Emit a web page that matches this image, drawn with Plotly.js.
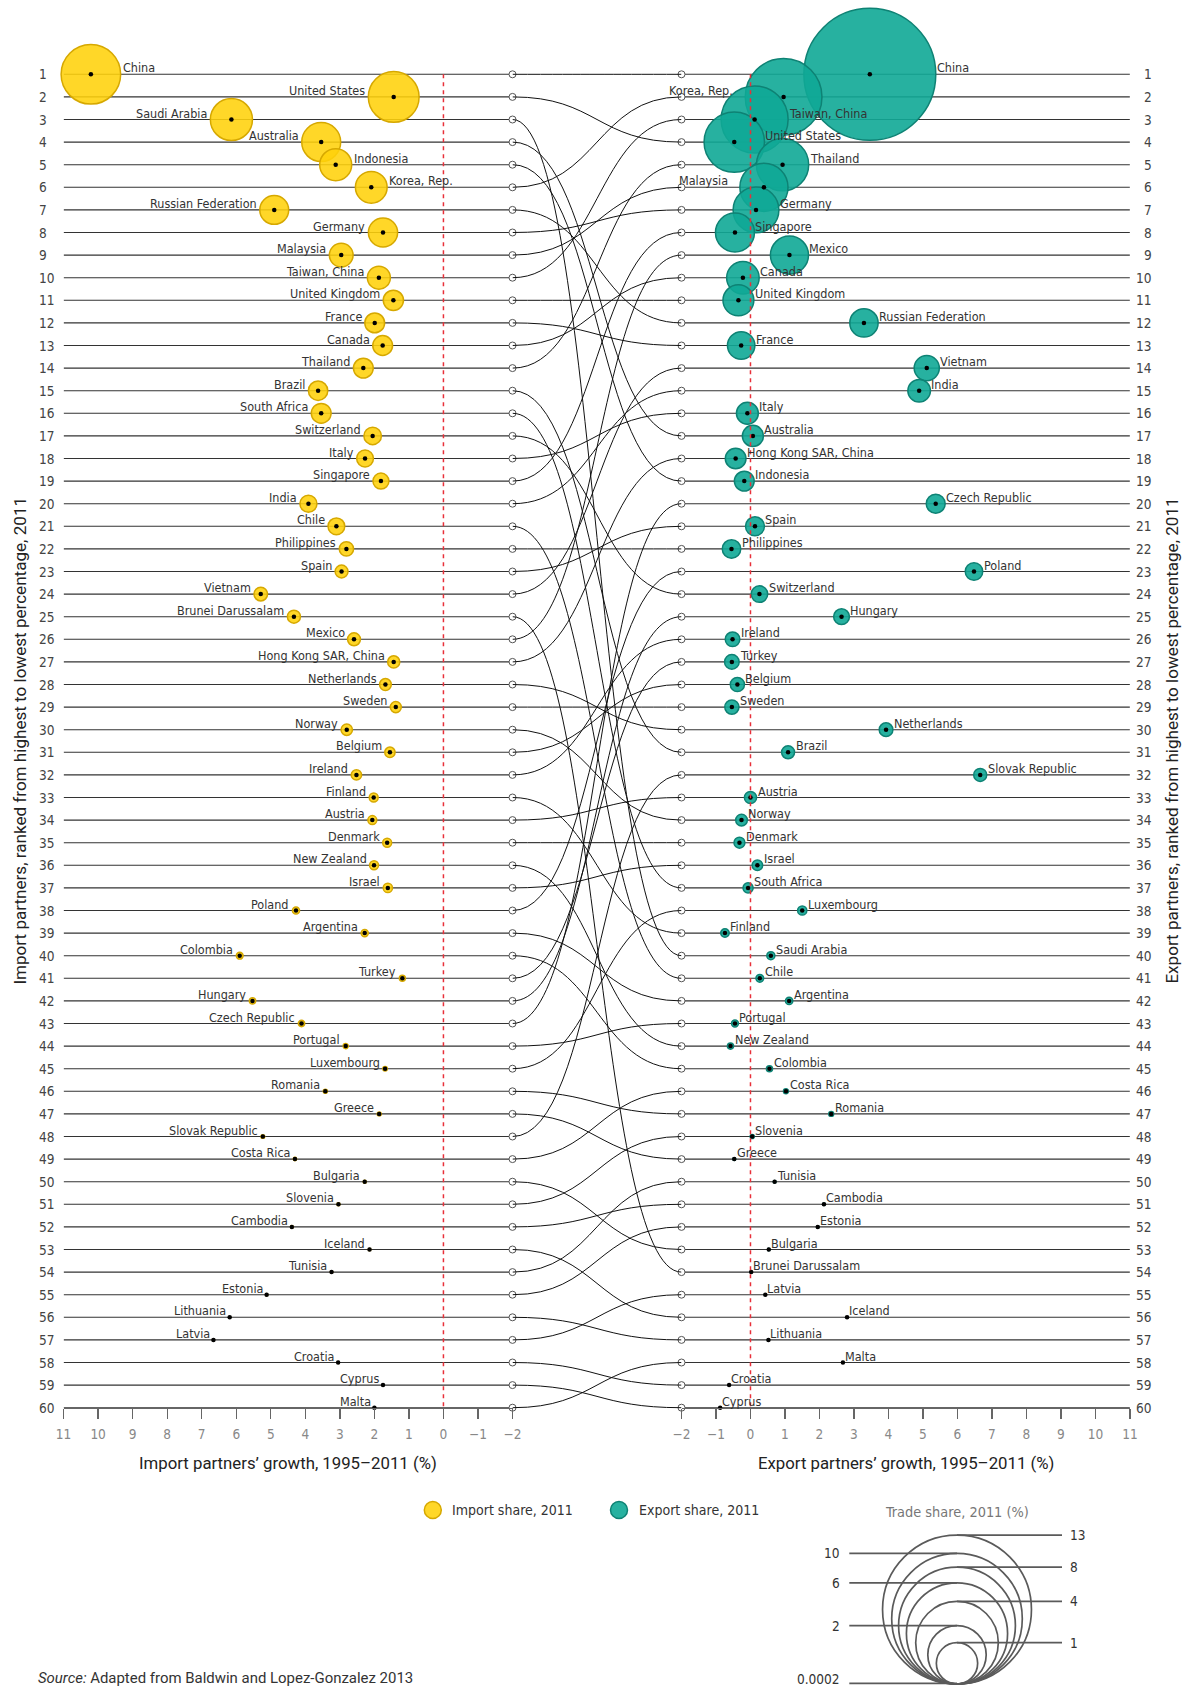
<!DOCTYPE html>
<html><head><meta charset="utf-8">
<script src="https://cdn.plot.ly/plotly-3.0.1.min.js"></script>
<style>html,body{margin:0;padding:0;background:#fff}#chart{width:1195px;height:1690px}</style>
</head><body><div id="chart"></div>
<script>
// ---------------- DATA ----------------
const importCountries = ["China","United States","Saudi Arabia","Australia","Indonesia","Korea, Rep.","Russian Federation","Germany","Malaysia","Taiwan, China","United Kingdom","France","Canada","Thailand","Brazil","South Africa","Switzerland","Italy","Singapore","India","Chile","Philippines","Spain","Vietnam","Brunei Darussalam","Mexico","Hong Kong SAR, China","Netherlands","Sweden","Norway","Belgium","Ireland","Finland","Austria","Denmark","New Zealand","Israel","Poland","Argentina","Colombia","Turkey","Hungary","Czech Republic","Portugal","Luxembourg","Romania","Greece","Slovak Republic","Costa Rica","Bulgaria","Slovenia","Cambodia","Iceland","Tunisia","Estonia","Lithuania","Latvia","Croatia","Cyprus","Malta"];
const importGrowth = [10.21,1.44,6.14,3.54,3.12,2.09,4.90,1.75,2.96,1.87,1.45,1.99,1.76,2.32,3.63,3.54,2.05,2.27,1.81,3.91,3.10,2.81,2.95,5.29,4.33,2.59,1.44,1.68,1.38,2.80,1.55,2.52,2.02,2.06,1.63,2.01,1.61,4.27,2.28,5.90,1.19,5.53,4.11,2.83,1.69,3.42,1.86,5.23,4.30,2.28,3.04,4.39,2.14,3.24,5.12,6.19,6.66,3.05,1.75,2.00];
const importShare = [2.08,1.51,1.04,0.89,0.60,0.59,0.49,0.50,0.33,0.31,0.24,0.23,0.23,0.23,0.22,0.23,0.18,0.165,0.15,0.17,0.165,0.12,0.097,0.108,0.10,0.097,0.086,0.081,0.072,0.076,0.063,0.063,0.047,0.047,0.047,0.047,0.05,0.03,0.03,0.027,0.021,0.024,0.024,0.015,0.012,0.01,0.009,0.008,0.007,0.005,0.005,0.004,0.004,0.003,0.003,0.002,0.002,0.002,0.001,0.001];

const exportCountries = ["China","Korea, Rep.","Taiwan, China","United States","Thailand","Malaysia","Germany","Singapore","Mexico","Canada","United Kingdom","Russian Federation","France","Vietnam","India","Italy","Australia","Hong Kong SAR, China","Indonesia","Czech Republic","Spain","Philippines","Poland","Switzerland","Hungary","Ireland","Turkey","Belgium","Sweden","Netherlands","Brazil","Slovak Republic","Austria","Norway","Denmark","Israel","South Africa","Luxembourg","Finland","Saudi Arabia","Chile","Argentina","Portugal","New Zealand","Colombia","Costa Rica","Romania","Slovenia","Greece","Tunisia","Cambodia","Estonia","Bulgaria","Brunei Darussalam","Latvia","Iceland","Lithuania","Malta","Croatia","Cyprus"];
const exportGrowth = [3.46,0.96,0.12,-0.47,0.93,0.39,0.16,-0.45,1.13,-0.22,-0.35,3.29,-0.27,5.11,4.89,-0.09,0.07,-0.43,-0.18,5.37,0.13,-0.55,6.48,0.26,2.64,-0.52,-0.54,-0.38,-0.54,3.93,1.09,6.66,0.0,-0.26,-0.32,0.20,-0.07,1.50,-0.74,0.59,0.27,1.12,-0.45,-0.58,0.55,1.03,2.34,0.05,-0.47,0.70,2.13,1.95,0.53,0.02,0.43,2.80,0.52,2.68,-0.62,-0.88];
const exportShare = [10.2,3.45,2.63,2.14,1.60,1.36,1.23,0.89,0.85,0.62,0.56,0.47,0.44,0.37,0.30,0.28,0.26,0.25,0.23,0.21,0.21,0.20,0.18,0.16,0.146,0.125,0.125,0.118,0.118,0.11,0.099,0.099,0.087,0.08,0.07,0.065,0.06,0.05,0.042,0.038,0.035,0.031,0.028,0.022,0.022,0.015,0.014,0.01,0.005,0.004,0.004,0.003,0.003,0.002,0.002,0.002,0.002,0.001,0.001,0.001];

const growthTicks = [11,10,9,8,7,6,5,4,3,2,1,0,-1,-2];
const legendShares = [13,10,8,6,4,2,1,0.0002];
const legendLabels = ["13","10","8","6","4","2","1","0.0002"];

// ---------------- FONTS (pick an installed narrow face, fit sizes to the reference widths) ----------------
const ctx = document.createElement('canvas').getContext('2d');
function hasFont(name) {
  const s = 'Russian Federation 0123456789 Wmil';
  for (const base of ['monospace', 'serif']) {
    ctx.font = '40px ' + base; const a = ctx.measureText(s).width;
    ctx.font = '40px "' + name + '", ' + base; const b = ctx.measureText(s).width;
    if (Math.abs(a - b) > 0.5) return true;
  }
  return false;
}
const narrowName = ['Liberation Sans Narrow', 'Arial Narrow', 'DejaVu Sans Condensed', 'Roboto'].find(hasFont) || 'Roboto';
const NARROW = '"' + narrowName + '", Roboto, sans-serif';
const REG = 'Roboto, "Liberation Sans", sans-serif';
function fit(text, family, target, lo, hi) {
  ctx.font = '100px ' + family;
  const w = ctx.measureText(text).width;
  return Math.max(lo, Math.min(hi, 100 * target / w));
}
const LAB_SIZE = fit('Russian Federation', NARROW, 102, 12.5, 15.5);
const NUM_SIZE = fit('10', NARROW, 15.5, 13.5, 16.5);
const LEG_SIZE = fit('Import share, 2011', NARROW, 121, 13, 16.5);
const TS_SIZE = fit('Trade share, 2011 (%)', NARROW, 143, 13, 16.5);
const XT_SIZE = fit('Import partners\u2019 growth, 1995\u20132011 (%)', REG, 298, 14, 18);
const YT_SIZE = fit('Import partners, ranked from highest to lowest percentage, 2011', REG, 488, 14, 18);
const SRC_SIZE = fit('Source: Adapted from Baldwin and Lopez-Gonzalez 2013', REG, 377, 13, 16.5);

// ---------------- GEOMETRY / STYLE ----------------
const W = 1195, H = 1690;
const fx = p => p / W, fy = p => 1 - p / H;
const L0 = 63.6, L1 = 512.5, R0 = 681.5, R1 = 1129.9;
const YT = 74.3, YB = 1407.7, ROWH = (YB - YT) / 59;
const SIZE_K = 41.3;
const dia = s => SIZE_K * Math.sqrt(s);
const YEL = 'rgba(255,209,10,0.88)', YEL_L = 'rgba(214,168,0,1)';
const TEAL = 'rgba(16,168,150,0.9)', TEAL_L = 'rgba(14,130,116,1)';

const nRows = importCountries.length;
const ranks = importCountries.map((_, i) => i + 1);
const xMax = growthTicks[0], xMin = growthTicks[growthTicks.length - 1];

// ---------------- TRACES ----------------
const traces = [
  {type:'scatter', mode:'markers', x: importGrowth, y: ranks, xaxis:'x', yaxis:'y', cliponaxis:false,
   text: importCountries, hoverinfo:'text',
   marker:{size: importShare.map(dia), sizemode:'diameter', opacity:1, color: YEL, line:{color: YEL_L, width:1.5}}},
  {type:'scatter', mode:'markers', x: exportGrowth, y: ranks, xaxis:'x2', yaxis:'y', cliponaxis:false,
   text: exportCountries, hoverinfo:'text',
   marker:{size: exportShare.map(dia), sizemode:'diameter', opacity:1, color: TEAL, line:{color: TEAL_L, width:1.5}}},
  {type:'scatter', mode:'markers', x: importGrowth, y: ranks, xaxis:'x', yaxis:'y', cliponaxis:false, hoverinfo:'skip',
   marker:{size:4.5, color:'#000', opacity:1}},
  {type:'scatter', mode:'markers', x: exportGrowth, y: ranks, xaxis:'x2', yaxis:'y', cliponaxis:false, hoverinfo:'skip',
   marker:{size:4.5, color:'#000', opacity:1}},
  {type:'scatter', mode:'markers', x: ranks.map(() => xMin), y: ranks, xaxis:'x', yaxis:'y', cliponaxis:false, hoverinfo:'skip',
   marker:{size:7, color:'#fff', opacity:1, line:{color:'#555', width:1}}},
  {type:'scatter', mode:'markers', x: ranks.map(() => xMin), y: ranks, xaxis:'x2', yaxis:'y', cliponaxis:false, hoverinfo:'skip',
   marker:{size:7, color:'#fff', opacity:1, line:{color:'#555', width:1}}}
];

// ---------------- SHAPES ----------------
const shapes = [];
ranks.forEach(r => {
  shapes.push({type:'line', xref:'x', yref:'y', x0:xMax, x1:xMin, y0:r, y1:r, layer:'below', line:{color:'#333', width:1.1}});
  shapes.push({type:'line', xref:'x2', yref:'y', x0:xMin, x1:xMax, y0:r, y1:r, layer:'below', line:{color:'#333', width:1.1}});
});
importCountries.forEach((c, i) => {
  const r1 = i + 1, r2 = exportCountries.indexOf(c) + 1;
  shapes.push({type:'path', xref:'x3', yref:'y', layer:'below',
    path:`M 0,${r1} C 0.5,${r1} 0.5,${r2} 1,${r2}`, line:{color:'#111', width:1}});
});
['x','x2'].forEach(ax => shapes.push({type:'line', xref:ax, yref:'y', x0:0, x1:0, y0:1, y1:nRows,
  layer:'above', line:{color:'#e8303a', width:1.5, dash:'4px,4px'}}));

// legend: colour keys
const LEG_Y = 1510;
shapes.push({type:'circle', xref:'paper', yref:'paper', x0:fx(424.3), x1:fx(441.3), y0:fy(LEG_Y+8.5), y1:fy(LEG_Y-8.5), fillcolor:YEL, line:{color:YEL_L, width:1.5}});
shapes.push({type:'circle', xref:'paper', yref:'paper', x0:fx(610.5), x1:fx(627.5), y0:fy(LEG_Y+8.5), y1:fy(LEG_Y-8.5), fillcolor:TEAL, line:{color:TEAL_L, width:1.5}});

// legend: nested size circles
const LC_X = 957, LC_B = 1684;
const annotations = [];
legendShares.forEach((v, k) => {
  const d = dia(v), top = LC_B - d;
  if (d > 1) shapes.push({type:'circle', xref:'paper', yref:'paper', x0:fx(LC_X - d/2), x1:fx(LC_X + d/2), y0:fy(LC_B), y1:fy(top),
    line:{color:'#5a5a5a', width:1.7}});
  const right = (k % 2 === 0);
  shapes.push({type:'line', xref:'paper', yref:'paper', x0:fx(LC_X), x1:fx(right ? 1062 : 849.3), y0:fy(top), y1:fy(top),
    line:{color:'#5a5a5a', width:1.8}});
  const last = (k === legendShares.length - 1);
  annotations.push({xref:'paper', yref:'paper', x:fx(right ? 1068 : 842), y: last ? fy(1689) : fy(top), text:legendLabels[k], showarrow:false,
    xanchor: right ? 'left' : 'right', yanchor: last ? 'bottom' : 'middle', font:{family:NARROW, size:NUM_SIZE, color:'#333'}});
});

// ---------------- ANNOTATIONS ----------------
const flipL = ["China","Korea, Rep.","Indonesia"];
const flipR = ["Korea, Rep.","Malaysia"];
const labFont = {family:NARROW, size:LAB_SIZE, color:'#333'};
importCountries.forEach((c, i) => {
  const r = dia(importShare[i]) / 2, flip = flipL.includes(c);
  annotations.push({xref:'x', yref:'y', x:importGrowth[i], y:i+1, text:c, showarrow:false,
    xanchor: flip ? 'left' : 'right', yanchor:'bottom', xshift: flip ? r : -(r + 1), yshift:-3, font:labFont});
});
exportCountries.forEach((c, i) => {
  const r = dia(exportShare[i]) / 2, flip = flipR.includes(c);
  annotations.push({xref:'x2', yref:'y', x:exportGrowth[i], y:i+1, text:c, showarrow:false,
    xanchor: flip ? 'right' : 'left', yanchor:'bottom', xshift: flip ? -(r + 10) : r - 1, yshift:-3, font:labFont});
});
ranks.forEach(r => {
  annotations.push({xref:'paper', yref:'y', x:fx(36.5), y:r, text:String(r), showarrow:false, xanchor:'left', yanchor:'middle',
    font:{family:NARROW, size:NUM_SIZE, color:'#444'}});
  annotations.push({xref:'paper', yref:'y', x:fx(1154), y:r, text:String(r), showarrow:false, xanchor:'right', yanchor:'middle',
    font:{family:NARROW, size:NUM_SIZE, color:'#444'}});
});
annotations.push({xref:'paper', yref:'paper', x:fx((L0+L1)/2), y:fy(1463), text:'Import partners\u2019 growth, 1995\u20132011 (%)',
  showarrow:false, xanchor:'center', yanchor:'middle', font:{family:REG, size:XT_SIZE, color:'#222'}});
annotations.push({xref:'paper', yref:'paper', x:fx((R0+R1)/2), y:fy(1463), text:'Export partners\u2019 growth, 1995\u20132011 (%)',
  showarrow:false, xanchor:'center', yanchor:'middle', font:{family:REG, size:XT_SIZE, color:'#222'}});
annotations.push({xref:'paper', yref:'paper', x:fx(19.6), y:fy((YT+YB)/2), textangle:-90,
  text:'Import partners, ranked from highest to lowest percentage, 2011', showarrow:false, xanchor:'center', yanchor:'middle',
  font:{family:REG, size:YT_SIZE, color:'#222'}});
annotations.push({xref:'paper', yref:'paper', x:fx(1171.6), y:fy((YT+YB)/2), textangle:-90,
  text:'Export partners, ranked from highest to lowest percentage, 2011', showarrow:false, xanchor:'center', yanchor:'middle',
  font:{family:REG, size:YT_SIZE, color:'#222'}});
annotations.push({xref:'paper', yref:'paper', x:fx(450), y:fy(LEG_Y), text:'Import share, 2011', showarrow:false,
  xanchor:'left', yanchor:'middle', font:{family:NARROW, size:LEG_SIZE, color:'#333'}});
annotations.push({xref:'paper', yref:'paper', x:fx(637), y:fy(LEG_Y), text:'Export share, 2011', showarrow:false,
  xanchor:'left', yanchor:'middle', font:{family:NARROW, size:LEG_SIZE, color:'#333'}});
annotations.push({xref:'paper', yref:'paper', x:fx(LC_X), y:fy(1512), text:'Trade share, 2011 (%)', showarrow:false,
  xanchor:'center', yanchor:'middle', font:{family:NARROW, size:TS_SIZE, color:'#777'}});
annotations.push({xref:'paper', yref:'paper', x:fx(36), y:fy(1689), text:'<i>Source:</i> Adapted from Baldwin and Lopez-Gonzalez 2013',
  showarrow:false, xanchor:'left', yanchor:'bottom', font:{family:REG, size:SRC_SIZE, color:'#333'}});

// ---------------- AXES ----------------
const tickText = growthTicks.map(v => v < 0 ? '\u2212' + Math.abs(v) : String(v));
const xCommon = {anchor:'free', position:fy(YB), showgrid:false, zeroline:false, showline:true, linecolor:'#666', linewidth:1.3,
  ticks:'outside', ticklen:10, tickwidth:1.3, tickcolor:'#666', tickmode:'array', tickvals:growthTicks, ticktext:tickText,
  ticklabelstandoff:4, tickfont:{family:NARROW, size:NUM_SIZE, color:'#888'}, fixedrange:true};
const layout = {
  width:W, height:H, margin:{l:0, r:0, t:0, b:0}, paper_bgcolor:'#fff', plot_bgcolor:'rgba(0,0,0,0)',
  showlegend:false, hovermode:false,
  xaxis: Object.assign({}, xCommon, {domain:[fx(L0), fx(L1)], range:[xMax, xMin]}),
  xaxis2: Object.assign({}, xCommon, {domain:[fx(R0), fx(R1)], range:[xMin, xMax]}),
  xaxis3: {domain:[fx(L1), fx(R0)], range:[0, 1], visible:false, anchor:'y', fixedrange:true},
  yaxis: {domain:[fy(YB + ROWH/2), fy(YT - ROWH/2)], range:[nRows + 0.5, 0.5], showgrid:false, zeroline:false,
    showticklabels:false, ticks:'', showline:false, fixedrange:true},
  shapes: shapes, annotations: annotations
};
Plotly.newPlot('chart', traces, layout, {staticPlot:true, displayModeBar:false});
</script>
</body></html>
